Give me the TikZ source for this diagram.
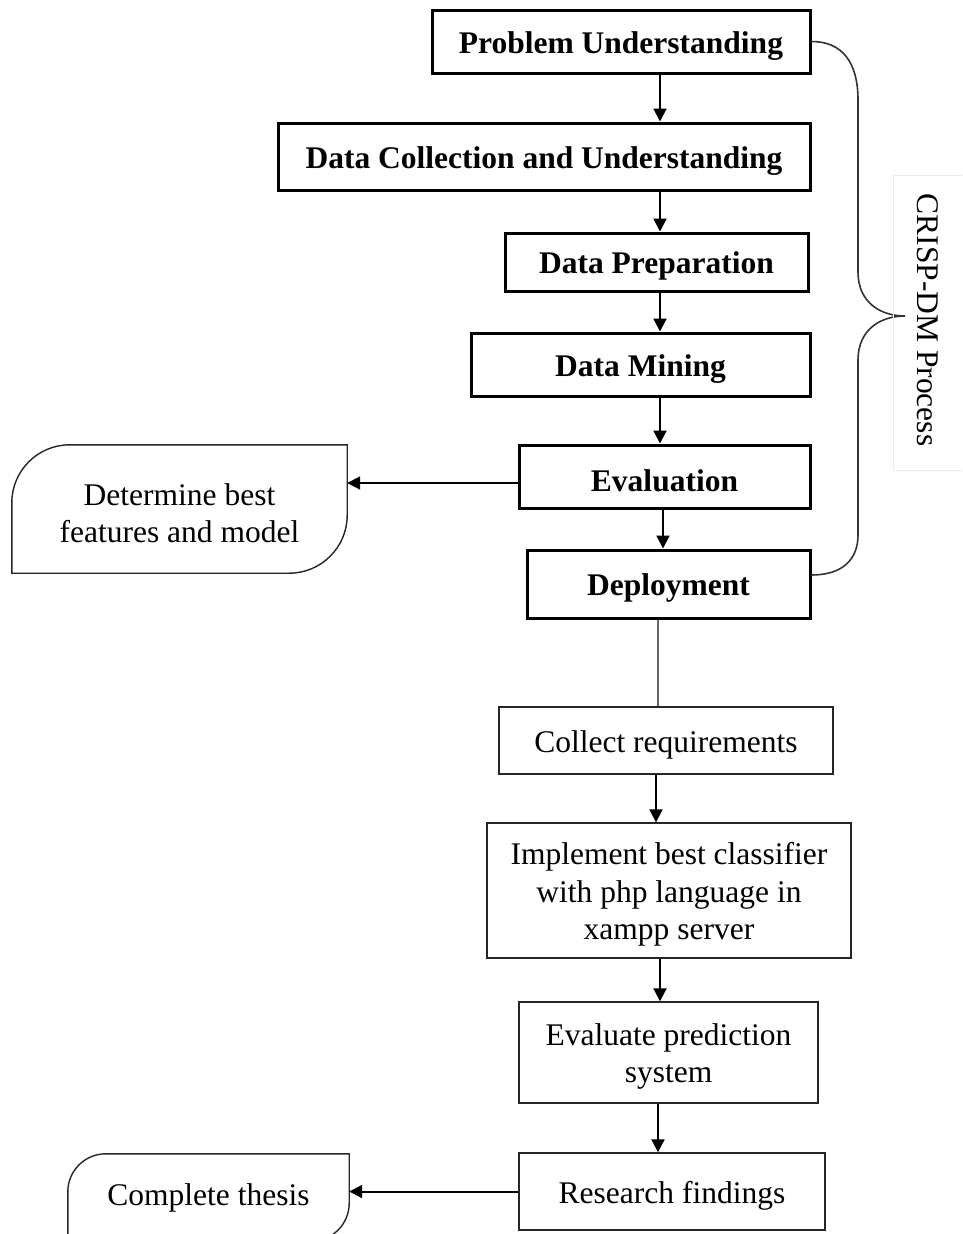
\documentclass[tikz,border=0pt]{standalone}
\usepackage{fontspec}
\setmainfont{Liberation Serif}
\usetikzlibrary{arrows.meta,calc}
\newcommand\lblsize{\fontsize{31.5}{37.5}\selectfont}
% a taller first line lowers the text a little inside its frame
\newcommand\lowerstrut{\rule{0pt}{30pt}}
\tikzset{
  crisp/.style={draw=black, line width=3pt, inner sep=0pt, align=center, font=\lblsize\bfseries},
  plainbox/.style={draw=black!85, line width=1.4pt, inner sep=0pt, align=center, font=\lblsize},
  termtext/.style={inner sep=0pt, align=center, font=\lblsize},
  termline/.style={draw=black!85, line width=1.4pt},
  arr/.style={-{Triangle[length=13pt,width=13pt]}, line width=2pt, draw=black},
  link/.style={line width=1.5pt, draw=black!60},
  bracepath/.style={line width=1.6pt, draw=black!80, line cap=round}
}
\begin{document}
\begin{tikzpicture}[x=1pt,y=1pt]
\useasboundingbox (0,0) rectangle (962,-1234);
\clip (0,0) rectangle (962,-1234);
\fill[white] (0,0) rectangle (962,-1234);

% reference columns and rows for the connectors
\coordinate (x656) at (656,0);
\coordinate (x658) at (658,0);
\coordinate (x660) at (660,0);
\coordinate (x663) at (663,0);
\coordinate (y483) at (0,-483);
\coordinate (y575) at (0,-575);

% CRISP-DM phases
\node[crisp, minimum width=378pt, minimum height=63pt] (PU)   at (621,-41.5)  {\lowerstrut Problem Understanding};
\node[crisp, minimum width=532pt, minimum height=67pt] (DCU)  at (544,-156.5) {\lowerstrut Data Collection and Understanding};
\node[crisp, minimum width=303pt, minimum height=58pt] (DP)   at (656.5,-262) {\lowerstrut Data Preparation};
\node[crisp, minimum width=339pt, minimum height=63pt] (DM)   at (640.5,-364.5) {\lowerstrut Data Mining};
\node[crisp, minimum width=291pt, minimum height=63pt] (Eval) at (664.5,-476.5) {\lowerstrut Evaluation};
\node[crisp, minimum width=283pt, minimum height=68pt] (Dep)  at (668.5,-584)  {\lowerstrut Deployment};

% system development steps
\node[plainbox, minimum width=334pt, minimum height=67pt]  (CR)   at (666,-740.5)   {\lowerstrut Collect requirements};
\node[plainbox, minimum width=364pt, minimum height=135pt] (Impl) at (669,-890.5)   {\lowerstrut Implement best classifier\\with php language in\\xampp server};
\node[plainbox, minimum width=299pt, minimum height=101pt] (EPS)  at (668.5,-1052.5) {\lowerstrut Evaluate prediction\\system};
\node[plainbox, minimum width=306pt, minimum height=77pt]  (RF)   at (672,-1191.5)  {\lowerstrut Research findings};

% outcome terminals
\node[termtext, minimum width=335pt, minimum height=128pt] (det) at (179.5,-509) {\lowerstrut Determine best\\features and model};
\draw[termline] ($(det.north west)+(58,0)$) -- (det.north east) -- ($(det.south east)+(0,58)$)
  arc[start angle=0, end angle=-90, radius=58] -- (det.south west) -- ($(det.north west)+(0,-58)$)
  arc[start angle=180, end angle=90, radius=58] -- cycle;

\node[termtext, minimum width=281pt, minimum height=87pt] (thesis) at (208.5,-1197.5) {Complete thesis};
\draw[termline] ($(thesis.north west)+(38,0)$) -- (thesis.north east) -- ($(thesis.south east)+(0,38)$)
  arc[start angle=0, end angle=-90, radius=38] -- (thesis.south west) -- ($(thesis.north west)+(0,-38)$)
  arc[start angle=180, end angle=90, radius=38] -- cycle;

% flow arrows
\draw[arr] (PU.south -| x660) -- (DCU.north -| x660);
\draw[arr] (DCU.south -| x660) -- (DP.north -| x660);
\draw[arr] (DP.south -| x660) -- (DM.north -| x660);
\draw[arr] (DM.south -| x660) -- (Eval.north -| x660);
\draw[arr] (Eval.south -| x663) -- (Dep.north -| x663);
\draw[link] (Dep.south -| x658) -- (CR.north -| x658);
\draw[arr] (CR.south -| x656) -- (Impl.north -| x656);
\draw[arr] (Impl.south -| x660) -- (EPS.north -| x660);
\draw[arr] (EPS.south -| x658) -- (RF.north -| x658);
\draw[arr] (Eval.west |- y483) -- (det.east |- y483);
\draw[arr] (RF.west) -- (thesis.east |- RF.west);

% brace grouping the CRISP-DM phases
\draw[bracepath] (PU.east) .. controls (842,-41.5) and (858,-62) .. (858,-100)
  -- (858,-272) .. controls (858,-302) and (880,-316) .. (905,-316)
  .. controls (880,-316) and (858,-330) .. (858,-360)
  -- (858,-535) .. controls (858,-560) and (842,-575) .. (Dep.east |- y575);

% brace label
\draw[draw=black!8, line width=1pt] (893,-175) rectangle (970,-470);
\node[termtext, rotate=-90] (crisp) at (928,-320) {CRISP-DM Process};
\end{tikzpicture}
\end{document}
